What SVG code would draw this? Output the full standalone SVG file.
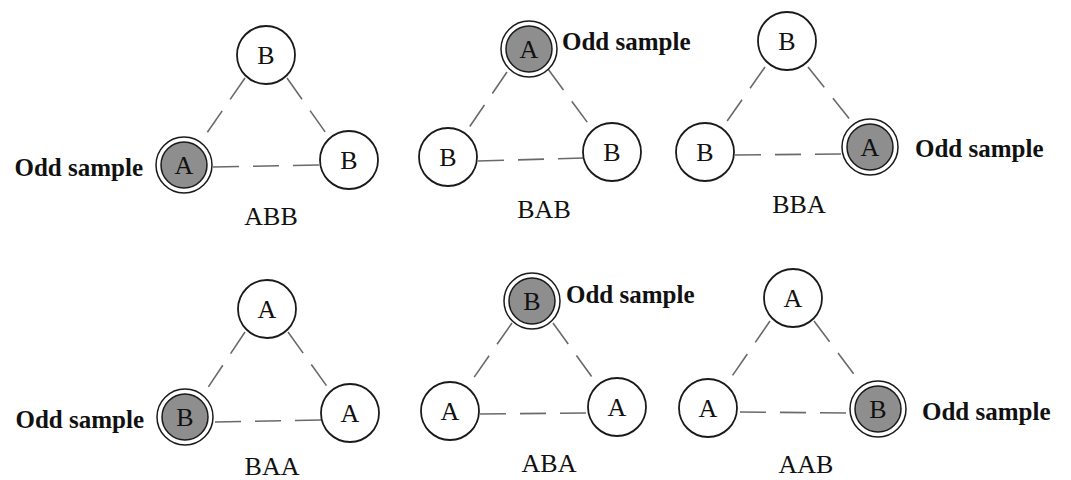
<svg xmlns="http://www.w3.org/2000/svg" width="1071" height="480" viewBox="0 0 1071 480">
<style>
.bg{fill:#ffffff}
.n{fill:#ffffff;stroke:#1a1a1a;stroke-width:1.8}
.ring{fill:#ffffff;stroke:#1a1a1a;stroke-width:1.5}
.odd{fill:#8e8e8e;stroke:#1a1a1a;stroke-width:1.5}
.lt{font-family:"Liberation Serif","Times New Roman",serif;font-size:26px;fill:#111;text-anchor:middle}
.cap{font-family:"Liberation Serif","Times New Roman",serif;font-size:26px;fill:#111;text-anchor:middle}
.os{font-family:"Liberation Serif","Times New Roman",serif;font-size:25px;font-weight:bold;fill:#111}
.c line{stroke:#6a6a6a;stroke-width:1.6;stroke-dasharray:26 14;fill:none}
</style>
<rect class="bg" x="0" y="0" width="1071" height="480"/>
<g id="connectors" class="c">
  <line x1="245" y1="78" x2="202" y2="140"/>
  <line x1="287" y1="78" x2="328" y2="136"/>
  <line x1="213" y1="167" x2="320" y2="165"/>
  <line x1="507" y1="72" x2="466" y2="132"/>
  <line x1="548" y1="69" x2="593" y2="130"/>
  <line x1="478" y1="161" x2="584" y2="158"/>
  <line x1="765" y1="67" x2="723" y2="127"/>
  <line x1="808" y1="67" x2="855" y2="126"/>
  <line x1="735" y1="155" x2="847" y2="154"/>
  <line x1="245" y1="332" x2="203" y2="395"/>
  <line x1="288" y1="332" x2="331" y2="392"/>
  <line x1="215" y1="422" x2="322" y2="420"/>
  <line x1="512" y1="323" x2="468" y2="386"/>
  <line x1="553" y1="323" x2="597" y2="384"/>
  <line x1="480" y1="414" x2="588" y2="413"/>
  <line x1="770" y1="321" x2="728" y2="382"/>
  <line x1="814" y1="321" x2="862" y2="385"/>
  <line x1="740" y1="412" x2="847" y2="413"/>
</g>
<!-- ABB -->
<g id="abb-top"><circle class="n" cx="266" cy="55" r="29"/><text class="lt" x="266" y="64">B</text></g>
<g id="abb-left"><circle class="ring" cx="184" cy="165" r="28"/><circle class="odd" cx="184" cy="165" r="23"/><text class="lt" x="184" y="174">A</text></g>
<g id="abb-right"><circle class="n" cx="349" cy="160" r="29"/><text class="lt" x="349" y="169">B</text></g>
<g id="abb-labels"><text class="os" x="143" y="176" text-anchor="end">Odd sample</text><text class="cap" x="271" y="225">ABB</text></g>
<!-- BAB -->
<g id="bab-top"><circle class="ring" cx="529" cy="49" r="28"/><circle class="odd" cx="529" cy="49" r="23"/><text class="lt" x="529" y="58">A</text></g>
<g id="bab-left"><circle class="n" cx="448" cy="157" r="29"/><text class="lt" x="448" y="166">B</text></g>
<g id="bab-right"><circle class="n" cx="612" cy="152" r="29"/><text class="lt" x="612" y="161">B</text></g>
<g id="bab-labels"><text class="os" x="562" y="50">Odd sample</text><text class="cap" x="544" y="218">BAB</text></g>
<!-- BBA -->
<g id="bba-top"><circle class="n" cx="787" cy="41" r="29"/><text class="lt" x="787" y="50">B</text></g>
<g id="bba-left"><circle class="n" cx="705" cy="152" r="29"/><text class="lt" x="705" y="161">B</text></g>
<g id="bba-right"><circle class="ring" cx="870" cy="147" r="28"/><circle class="odd" cx="870" cy="147" r="23"/><text class="lt" x="870" y="156">A</text></g>
<g id="bba-labels"><text class="os" x="915" y="157">Odd sample</text><text class="cap" x="799" y="213">BBA</text></g>
<!-- BAA -->
<g id="baa-top"><circle class="n" cx="267" cy="309" r="29"/><text class="lt" x="267" y="318">A</text></g>
<g id="baa-left"><circle class="ring" cx="185" cy="417" r="28"/><circle class="odd" cx="185" cy="417" r="23"/><text class="lt" x="185" y="426">B</text></g>
<g id="baa-right"><circle class="n" cx="350" cy="413" r="29"/><text class="lt" x="350" y="422">A</text></g>
<g id="baa-labels"><text class="os" x="144" y="428" text-anchor="end">Odd sample</text><text class="cap" x="272" y="475">BAA</text></g>
<!-- ABA -->
<g id="aba-top"><circle class="ring" cx="532" cy="301" r="28"/><circle class="odd" cx="532" cy="301" r="23"/><text class="lt" x="532" y="310">B</text></g>
<g id="aba-left"><circle class="n" cx="450" cy="411" r="29"/><text class="lt" x="450" y="420">A</text></g>
<g id="aba-right"><circle class="n" cx="617" cy="407" r="29"/><text class="lt" x="617" y="416">A</text></g>
<g id="aba-labels"><text class="os" x="566" y="303">Odd sample</text><text class="cap" x="549" y="472">ABA</text></g>
<!-- AAB -->
<g id="aab-top"><circle class="n" cx="793" cy="298" r="29"/><text class="lt" x="793" y="307">A</text></g>
<g id="aab-left"><circle class="n" cx="708" cy="408" r="29"/><text class="lt" x="708" y="417">A</text></g>
<g id="aab-right"><circle class="ring" cx="878" cy="409" r="28"/><circle class="odd" cx="878" cy="409" r="23"/><text class="lt" x="878" y="418">B</text></g>
<g id="aab-labels"><text class="os" x="922" y="420">Odd sample</text><text class="cap" x="806" y="473">AAB</text></g>
</svg>
